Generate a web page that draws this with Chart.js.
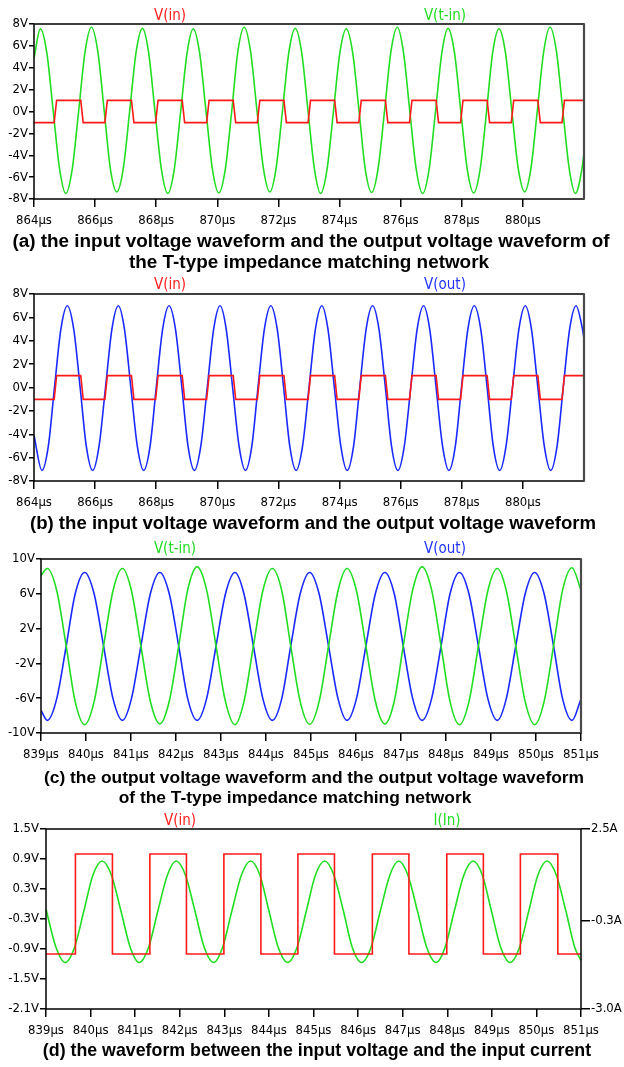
<!DOCTYPE html>
<html>
<head>
<meta charset="utf-8">
<script src="https://cdn.jsdelivr.net/npm/chart.js@4.4.1/dist/chart.umd.min.js"></script>
<style>
    body { margin: 0; background: #fff; }
    #page { position: relative; width: 624px; height: 1067px; overflow: hidden; background: #fff; }
    #page canvas { position: absolute; left: 0; }
    .cap { position: absolute; white-space: nowrap; font-family: "Liberation Sans", Arial, sans-serif; font-weight: bold; color: #000; transform: translate(-50%, -50%); }
    .trace { position: absolute; white-space: nowrap; font: 15px "DejaVu Sans Condensed", sans-serif; transform: translate(-50%, -50%); }
</style>
</head>
<body>
<div id="page">
    <canvas id="chartA" width="624" height="232" style="top:0px"></canvas>
    <canvas id="chartB" width="624" height="240" style="top:270px"></canvas>
    <canvas id="chartC" width="624" height="240" style="top:530px"></canvas>
    <canvas id="chartD" width="624" height="236" style="top:810px"></canvas>

    <div class="trace" style="left:170px; top:15px; color:#ff2020">V(in)</div>
    <div class="trace" style="left:445px; top:15px; color:#22dd22">V(t-in)</div>
    <div class="cap" style="left:311px; top:241px; font-size:18.9px">(a) the input voltage waveform and the output voltage waveform of</div>
    <div class="cap" style="left:309px; top:262px; font-size:18.9px">the T-type impedance matching network</div>

    <div class="trace" style="left:170px; top:284px; color:#ff2020">V(in)</div>
    <div class="trace" style="left:445px; top:284px; color:#2233ff">V(out)</div>
    <div class="cap" style="left:313px; top:523px; font-size:18.6px">(b) the input voltage waveform and the output voltage waveform</div>

    <div class="trace" style="left:175px; top:548px; color:#22dd22">V(t-in)</div>
    <div class="trace" style="left:445px; top:548px; color:#2233ff">V(out)</div>
    <div class="cap" style="left:314px; top:777px; font-size:17.4px">(c) the output voltage waveform and the output voltage waveform</div>
    <div class="cap" style="left:295px; top:797px; font-size:17.4px">of the T-type impedance matching network</div>

    <div class="trace" style="left:180px; top:820px; color:#ff2020">V(in)</div>
    <div class="trace" style="left:447px; top:820px; color:#22dd22">I(In)</div>
    <div class="cap" style="left:317px; top:1050px; font-size:17.8px">(d) the waveform between the input voltage and the input current</div>
</div>

<script>
// ---- tick labels ----
const xTicksAB = [864, 866, 868, 870, 872, 874, 876, 878, 880];
const yTicksAB = [-8, -6, -4, -2, 0, 2, 4, 6, 8];
const xTicksCD = [839, 840, 841, 842, 843, 844, 845, 846, 847, 848, 849, 850, 851];
const yTicksC = [-10, -6, -2, 2, 6, 10];
const vTicksD = [-2.1, -1.5, -0.9, -0.3, 0.3, 0.9, 1.5];
const iTicksD = [-3.0, -0.3, 2.5];

// ---- V(in), panels (a) and (b), µs / V ----
const vinT = [864.00,
    864.66, 864.74, 865.53, 865.61, 866.32, 866.40, 867.19, 867.27,
    867.98, 868.06, 868.85, 868.93, 869.65, 869.73, 870.52, 870.60,
    871.31, 871.39, 872.18, 872.26, 872.97, 873.05, 873.84, 873.92,
    874.63, 874.71, 875.50, 875.58, 876.29, 876.37, 877.16, 877.24,
    877.96, 878.04, 878.83, 878.91, 879.62, 879.70, 880.49, 880.57,
    881.28, 881.36, 882.00];
const vinV = [-1.02,
    -1.02, 1.02, 1.02, -1.02, -1.02, 1.02, 1.02, -1.02,
    -1.02, 1.02, 1.02, -1.02, -1.02, 1.02, 1.02, -1.02,
    -1.02, 1.02, 1.02, -1.02, -1.02, 1.02, 1.02, -1.02,
    -1.02, 1.02, 1.02, -1.02, -1.02, 1.02, 1.02, -1.02,
    -1.02, 1.02, 1.02, -1.02, -1.02, 1.02, 1.02, -1.02,
    -1.02, 1.02, 1.02];

// ---- V(t-in), panel (a) ----
const tinAT = [864.00,
    864.21, 864.42, 864.63, 864.84, 865.04, 865.25, 865.46, 865.67,
    865.88, 866.09, 866.30, 866.50, 866.71, 866.92, 867.13, 867.34,
    867.55, 867.75, 867.96, 868.17, 868.38, 868.59, 868.80, 869.01,
    869.21, 869.42, 869.63, 869.84, 870.05, 870.26, 870.47, 870.67,
    870.88, 871.09, 871.30, 871.51, 871.72, 871.92, 872.13, 872.34,
    872.55, 872.76, 872.97, 873.18, 873.38, 873.59, 873.80, 874.01,
    874.22, 874.43, 874.64, 874.84, 875.05, 875.26, 875.47, 875.68,
    875.89, 876.09, 876.30, 876.51, 876.72, 876.93, 877.14, 877.35,
    877.55, 877.76, 877.97, 878.18, 878.39, 878.60, 878.81, 879.01,
    879.22, 879.43, 879.64, 879.85, 880.06, 880.26, 880.47, 880.68,
    880.89, 881.10, 881.31, 881.52, 881.72, 881.93,
    882.00];
const tinAV = [4.9,
    7.55, 5.35, 0, -5.3, -7.5, -5.3, 0, 5.45,
    7.7, 5.45, 0, -5.25, -7.35, -5.25, 0, 5.4,
    7.6, 5.4, 0, -5.3, -7.5, -5.3, 0, 5.35,
    7.55, 5.35, 0, -5.3, -7.45, -5.3, 0, 5.45,
    7.7, 5.45, 0, -5.25, -7.35, -5.25, 0, 5.4,
    7.6, 5.4, 0, -5.3, -7.5, -5.3, 0, 5.35,
    7.55, 5.35, 0, -5.25, -7.4, -5.25, 0, 5.45,
    7.7, 5.45, 0, -5.3, -7.5, -5.3, 0, 5.4,
    7.6, 5.4, 0, -5.3, -7.45, -5.3, 0, 5.35,
    7.55, 5.35, 0, -5.25, -7.35, -5.25, 0, 5.45,
    7.7, 5.45, 0, -5.3, -7.5, -5.3,
    -3.8];

// ---- V(out), panel (b) ----
const outBT = [864.00,
    864.26, 864.47, 864.67, 864.88, 865.09, 865.30, 865.51, 865.71,
    865.92, 866.13, 866.34, 866.55, 866.76, 866.96, 867.17, 867.38,
    867.59, 867.80, 868.00, 868.21, 868.42, 868.63, 868.84, 869.04,
    869.25, 869.46, 869.67, 869.88, 870.09, 870.29, 870.50, 870.71,
    870.92, 871.13, 871.33, 871.54, 871.75, 871.96, 872.17, 872.37,
    872.58, 872.79, 873.00, 873.21, 873.42, 873.62, 873.83, 874.04,
    874.25, 874.46, 874.66, 874.87, 875.08, 875.29, 875.50, 875.70,
    875.91, 876.12, 876.33, 876.54, 876.75, 876.95, 877.16, 877.37,
    877.58, 877.79, 877.99, 878.20, 878.41, 878.62, 878.83, 879.03,
    879.24, 879.45, 879.66, 879.87, 880.08, 880.28, 880.49, 880.70,
    880.91, 881.12, 881.32, 881.53, 881.74, 881.95,
    882.00];
const outBV = [-4.1,
    -7.1, -5.0, 0, 5.0, 7.0, 5.0, 0, -5.0,
    -7.1, -5.0, 0, 5.0, 7.0, 5.0, 0, -5.0,
    -7.1, -5.0, 0, 5.0, 7.0, 5.0, 0, -5.0,
    -7.1, -5.0, 0, 5.0, 7.0, 5.0, 0, -5.0,
    -7.1, -5.0, 0, 5.0, 7.0, 5.0, 0, -5.0,
    -7.1, -5.0, 0, 5.0, 7.0, 5.0, 0, -5.0,
    -7.1, -5.0, 0, 5.0, 7.0, 5.0, 0, -5.0,
    -7.1, -5.0, 0, 5.0, 7.0, 5.0, 0, -5.0,
    -7.1, -5.0, 0, 5.0, 7.0, 5.0, 0, -5.0,
    -7.1, -5.0, 0, 5.0, 7.0, 5.0, 0, -5.0,
    -7.1, -5.0, 0, 5.0, 7.0, 5.0,
    4.2];

// ---- panel (c): V(t-in) and V(out) on the same time samples ----
const timeC = [839.00,
    839.14, 839.35, 839.56, 839.76, 839.97, 840.18, 840.39, 840.60,
    840.81, 841.01, 841.22, 841.43, 841.64, 841.85, 842.06, 842.26,
    842.47, 842.68, 842.89, 843.10, 843.31, 843.51, 843.72, 843.93,
    844.14, 844.35, 844.55, 844.76, 844.97, 845.18, 845.39, 845.60,
    845.80, 846.01, 846.22, 846.43, 846.64, 846.85, 847.05, 847.26,
    847.47, 847.68, 847.89, 848.09, 848.30, 848.51, 848.72, 848.93,
    849.14, 849.34, 849.55, 849.76, 849.97, 850.18, 850.39, 850.59,
    850.80, 851.00];
const tinCV = [8.1,
    8.9, 6.35, 0, -6.4, -9.05, -6.4, 0, 6.35,
    8.9, 6.35, 0, -6.35, -8.95, -6.35, 0, 6.45,
    9.1, 6.45, 0, -6.4, -9.05, -6.4, 0, 6.35,
    8.9, 6.35, 0, -6.4, -9.0, -6.4, 0, 6.35,
    8.9, 6.35, 0, -6.35, -8.95, -6.35, 0, 6.45,
    9.1, 6.45, 0, -6.4, -9.05, -6.4, 0, 6.35,
    8.9, 6.35, 0, -6.4, -9.05, -6.4, 0, 6.4,
    9.0, 6.4];
const outCV = [-7.4,
    -8.55, -6.05, 0, 6.0, 8.45, 6.0, 0, -6.05,
    -8.55, -6.05, 0, 6.0, 8.45, 6.0, 0, -6.05,
    -8.55, -6.05, 0, 6.0, 8.45, 6.0, 0, -6.05,
    -8.55, -6.05, 0, 6.0, 8.45, 6.0, 0, -6.05,
    -8.55, -6.05, 0, 6.0, 8.45, 6.0, 0, -6.05,
    -8.55, -6.05, 0, 6.0, 8.45, 6.0, 0, -6.05,
    -8.55, -6.05, 0, 6.0, 8.45, 6.0, 0, -6.05,
    -8.55, -6.1];

// ---- panel (d): V(in) (V) and I(In) (A) ----
const vinDT = [839.00, 839.66, 839.66, 840.49, 840.49, 841.33, 841.33, 842.15, 842.15,
    842.99, 842.99, 843.82, 843.82, 844.65, 844.65, 845.47, 845.47, 846.32, 846.32,
    847.14, 847.14, 847.99, 847.99, 848.81, 848.81, 849.64, 849.64, 850.48, 850.48, 851.00];
const vinDV = [-1, -1, 1, 1, -1, -1, 1, 1, -1,
    -1, 1, 1, -1, -1, 1, 1, -1, -1, 1,
    1, -1, -1, 1, 1, -1, -1, 1, 1, -1, -1];
const iinDT = [839.00, 839.22,
    839.43, 839.64, 839.85, 840.05, 840.26, 840.47, 840.68, 840.89,
    841.09, 841.30, 841.51, 841.72, 841.92, 842.13, 842.34, 842.55,
    842.76, 842.96, 843.17, 843.38, 843.59, 843.80, 844.00, 844.21,
    844.42, 844.63, 844.84, 845.04, 845.25, 845.46, 845.67, 845.87,
    846.08, 846.29, 846.50, 846.71, 846.91, 847.12, 847.33, 847.54,
    847.75, 847.95, 848.16, 848.37, 848.58, 848.79, 848.99, 849.20,
    849.41, 849.62, 849.83, 850.03, 850.24, 850.45, 850.66, 850.86,
    851.00];
const iinDV = [0.05, -1.1,
    -1.58, -1.12, 0, 1.08, 1.52, 1.08, 0, -1.12,
    -1.58, -1.12, 0, 1.08, 1.52, 1.08, 0, -1.12,
    -1.58, -1.12, 0, 1.08, 1.52, 1.08, 0, -1.12,
    -1.58, -1.12, 0, 1.08, 1.52, 1.08, 0, -1.12,
    -1.58, -1.12, 0, 1.08, 1.52, 1.08, 0, -1.12,
    -1.58, -1.12, 0, 1.08, 1.52, 1.08, 0, -1.12,
    -1.58, -1.12, 0, 1.08, 1.52, 1.08, 0, -1.12,
    -1.52];

const RED = '#ff1a1a';
const GREEN = '#22dd22';
const BLUE = '#1a2aff';
const NARROW = '"DejaVu Sans Condensed", "Liberation Sans", sans-serif';

function pts(ts, vs) {
    return ts.map((t, i) => ({x: t, y: vs[i]}));
}

function sine(ts, vs, color, axis) {
    return {
        data: pts(ts, vs), borderColor: color, borderWidth: 1.6, pointRadius: 0,
        cubicInterpolationMode: 'monotone', yAxisID: axis || 'y'
    };
}

function square(ts, vs, color) {
    return {data: pts(ts, vs), borderColor: color, borderWidth: 1.6, pointRadius: 0, tension: 0};
}

// black box round the plot, LTspice style
const framePlugin = {
    id: 'frame',
    afterDatasetsDraw(chart, args, opts) {
        const a = chart.chartArea;
        const ctx = chart.ctx;
        ctx.save();
        ctx.strokeStyle = '#000';
        ctx.lineWidth = 1.5;
        ctx.strokeRect(a.left, a.top, a.right - a.left, a.bottom - a.top);
        if (opts.greyRight) {
            ctx.strokeStyle = '#4a4a4a';
            ctx.lineWidth = 2.2;
            ctx.beginPath();
            ctx.moveTo(a.right, a.top);
            ctx.lineTo(a.right, a.bottom);
            ctx.stroke();
        }
        ctx.restore();
    }
};

function yAxis(pos, min, max, ticks, unit, width, tickLen, fmt) {
    return {
        type: 'linear', position: pos, min: min, max: max,
        afterBuildTicks: s => { s.ticks = ticks.map(v => ({value: v})); },
        afterFit: s => { s.width = width; },
        ticks: {
            callback: v => (fmt ? v.toFixed(1) : v) + unit,
            color: '#000', font: {family: NARROW, size: 13}, padding: 1, autoSkip: false
        },
        grid: {drawOnChartArea: false, drawTicks: true, tickLength: tickLen, color: '#000', lineWidth: 1.5},
        border: {display: false}
    };
}

function xAxis(min, max, ticks, height) {
    return {
        type: 'linear', min: min, max: max,
        afterBuildTicks: s => { s.ticks = ticks.map(v => ({value: v})); },
        afterFit: s => { s.height = height; },
        ticks: {
            callback: v => v + 'µs',
            color: '#000', font: {family: NARROW, size: 13}, padding: 6, maxRotation: 0, autoSkip: false
        },
        grid: {drawOnChartArea: false, drawTicks: true, tickLength: 8, color: '#000', lineWidth: 1.5},
        border: {display: false}
    };
}

function panel(id, datasets, scales, padding, greyRight) {
    return new Chart(document.getElementById(id), {
        type: 'line',
        data: {datasets: datasets},
        options: {
            responsive: false, animation: false, devicePixelRatio: 1, events: [],
            layout: {padding: padding},
            scales: scales,
            plugins: {legend: {display: false}, tooltip: {enabled: false}, frame: {greyRight: greyRight}}
        },
        plugins: [framePlugin]
    });
}

panel('chartA',
    [square(vinT, vinV, RED), sine(tinAT, tinAV, GREEN)],
    {x: xAxis(864, 882, xTicksAB, 33), y: yAxis('left', -8, 8, yTicksAB, 'V', 34, 5, false)},
    {top: 24, right: 40, left: 0, bottom: 0}, true);

panel('chartB',
    [square(vinT, vinV, RED), sine(outBT, outBV, BLUE)],
    {x: xAxis(864, 882, xTicksAB, 29), y: yAxis('left', -8, 8, yTicksAB, 'V', 34, 5, false)},
    {top: 24, right: 40, left: 0, bottom: 0}, true);

panel('chartC',
    [sine(timeC, tinCV, GREEN), sine(timeC, outCV, BLUE)],
    {x: xAxis(839, 851, xTicksCD, 37), y: yAxis('left', -10, 10, yTicksC, 'V', 41, 5, false)},
    {top: 29, right: 43, left: 0, bottom: 0}, true);

panel('chartD',
    [square(vinDT, vinDV, RED), sine(iinDT, iinDV, GREEN, 'y1')],
    {
        x: xAxis(839, 851, xTicksCD, 37),
        y: yAxis('left', -2.1, 1.5, vTicksD, 'V', 46, 6, true),
        y1: yAxis('right', -3.0, 2.5, iTicksD, 'A', 43, 9, true)
    },
    {top: 19, right: 0, left: 0, bottom: 0}, false);
</script>
</body>
</html>
